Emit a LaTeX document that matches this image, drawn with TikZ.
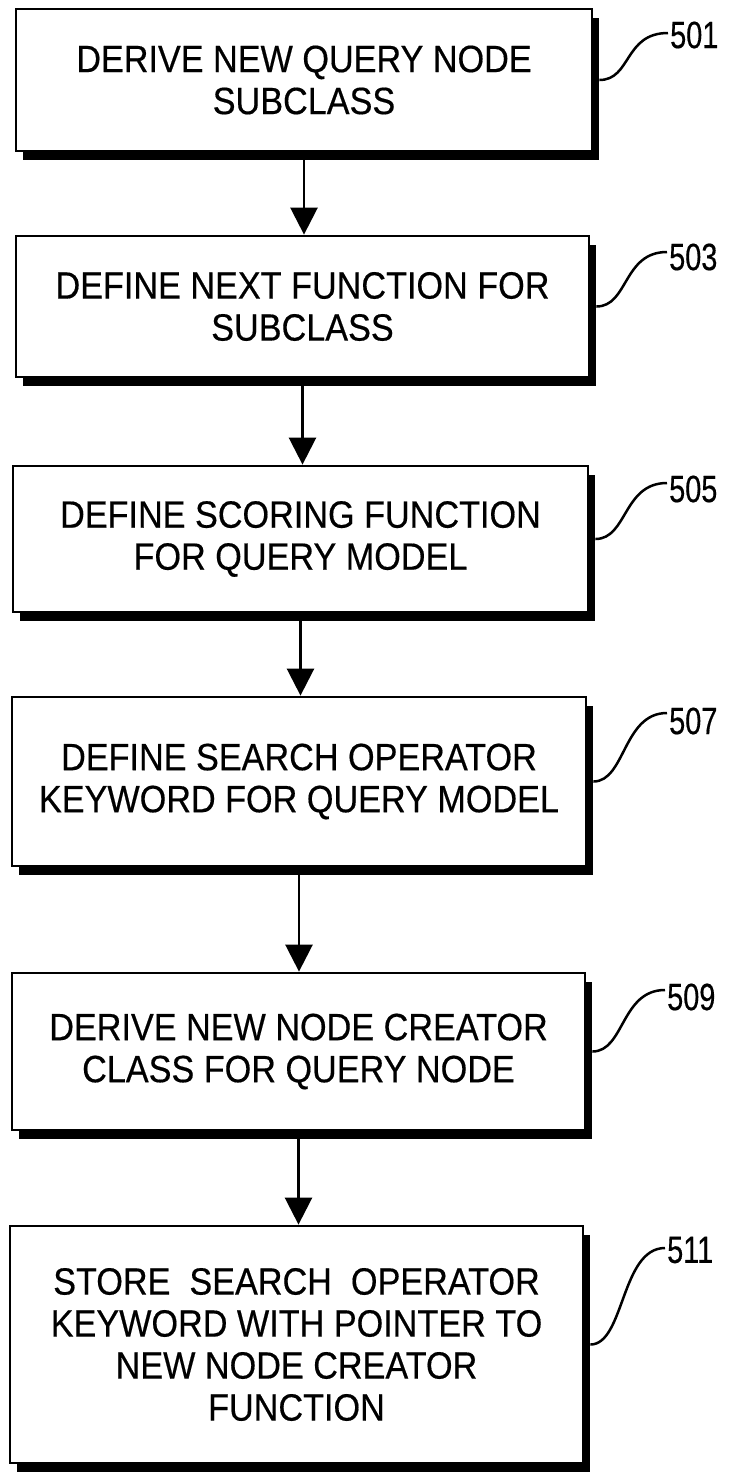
\documentclass[tikz,border=0pt]{standalone}
\usepackage{fontspec}
\setmainfont{Liberation Sans}
\newfontfamily\boxfont[FakeStretch=0.9,FakeBold=0.4]{Liberation Sans}
\newfontfamily\labfont[FakeStretch=0.76,FakeBold=0.4]{Liberation Sans}
\usetikzlibrary{arrows.meta,shadows}
\begin{document}
\begin{tikzpicture}[x=1pt,y=-1pt,
  box/.style={draw, line width=2.8pt, fill=white, inner sep=0pt, align=center,
    font=\boxfont\fontsize{38}{42}\selectfont,
    drop shadow={shadow xshift=7pt, shadow yshift=-9pt, fill=black, opacity=1}},
  arr/.style={line width=2.6pt, -{Triangle[length=27pt,width=27pt]}},
  lead/.style={line width=2.5pt},
  lab/.style={font=\labfont\fontsize{38}{38}\selectfont, inner sep=0pt, anchor=west}]
\useasboundingbox (0,0) rectangle (733,1473);

% boxes with their texts
\node[box, minimum width=576pt, minimum height=142pt] (b1) at (304,80)
  {DERIVE NEW QUERY NODE\\SUBCLASS};
\node[box, minimum width=573pt, minimum height=141pt] (b2) at (302.5,306.5)
  {DEFINE NEXT FUNCTION FOR\\SUBCLASS};
\node[box, minimum width=575pt, minimum height=146pt] (b3) at (300.5,539)
  {DEFINE SCORING FUNCTION\\FOR QUERY MODEL};
\node[box, minimum width=574pt, minimum height=169pt] (b4) at (299,781.5)
  {DEFINE SEARCH OPERATOR\\KEYWORD FOR QUERY MODEL};
\node[box, minimum width=573pt, minimum height=157pt] (b5) at (298.5,1051.5)
  {DERIVE NEW NODE CREATOR\\CLASS FOR QUERY NODE};
\node[box, minimum width=573pt, minimum height=237pt] (b6) at (296.5,1344.5)
  {STORE\ \ SEARCH\ \ OPERATOR\\KEYWORD WITH POINTER TO\\NEW NODE CREATOR\\FUNCTION};

% arrows
\draw[arr] (b1.south) -- (b1.south |- b2.north);
\draw[arr] (b2.south) -- (b2.south |- b3.north);
\draw[arr] (b3.south) -- (b3.south |- b4.north);
\draw[arr] (b4.south) -- (b4.south |- b5.north);
\draw[arr] (b5.south) -- (b5.south |- b6.north);

% leader ends
\coordinate (e1) at (668,33);
\coordinate (e2) at (667,252);
\coordinate (e3) at (667,483);
\coordinate (e4) at (667,713);
\coordinate (e5) at (665,990);
\coordinate (e6) at (665,1248);

\draw[lead] ([xshift=6pt]b1.east) .. controls +(32,0) and +(-44,0) .. (e1);
\draw[lead] ([xshift=6pt]b2.east) .. controls +(32,0) and +(-44,0) .. (e2);
\draw[lead] ([xshift=6pt]b3.east) .. controls +(32,0) and +(-44,0) .. (e3);
\draw[lead] ([xshift=6pt]b4.east) .. controls +(32,0) and +(-44,0) .. (e4);
\draw[lead] ([xshift=6pt]b5.east) .. controls +(32,0) and +(-44,0) .. (e5);
\draw[lead] ([xshift=6pt]b6.east) .. controls +(34,0) and +(-44,0) .. (e6);

% labels
\node[lab] (l1) at (670,35) {501};
\node[lab] (l2) at (669,257) {503};
\node[lab] (l3) at (669,489) {505};
\node[lab] (l4) at (669,721) {507};
\node[lab] (l5) at (667,997) {509};
\node[lab] (l6) at (667,1250) {511};
\end{tikzpicture}
\end{document}
